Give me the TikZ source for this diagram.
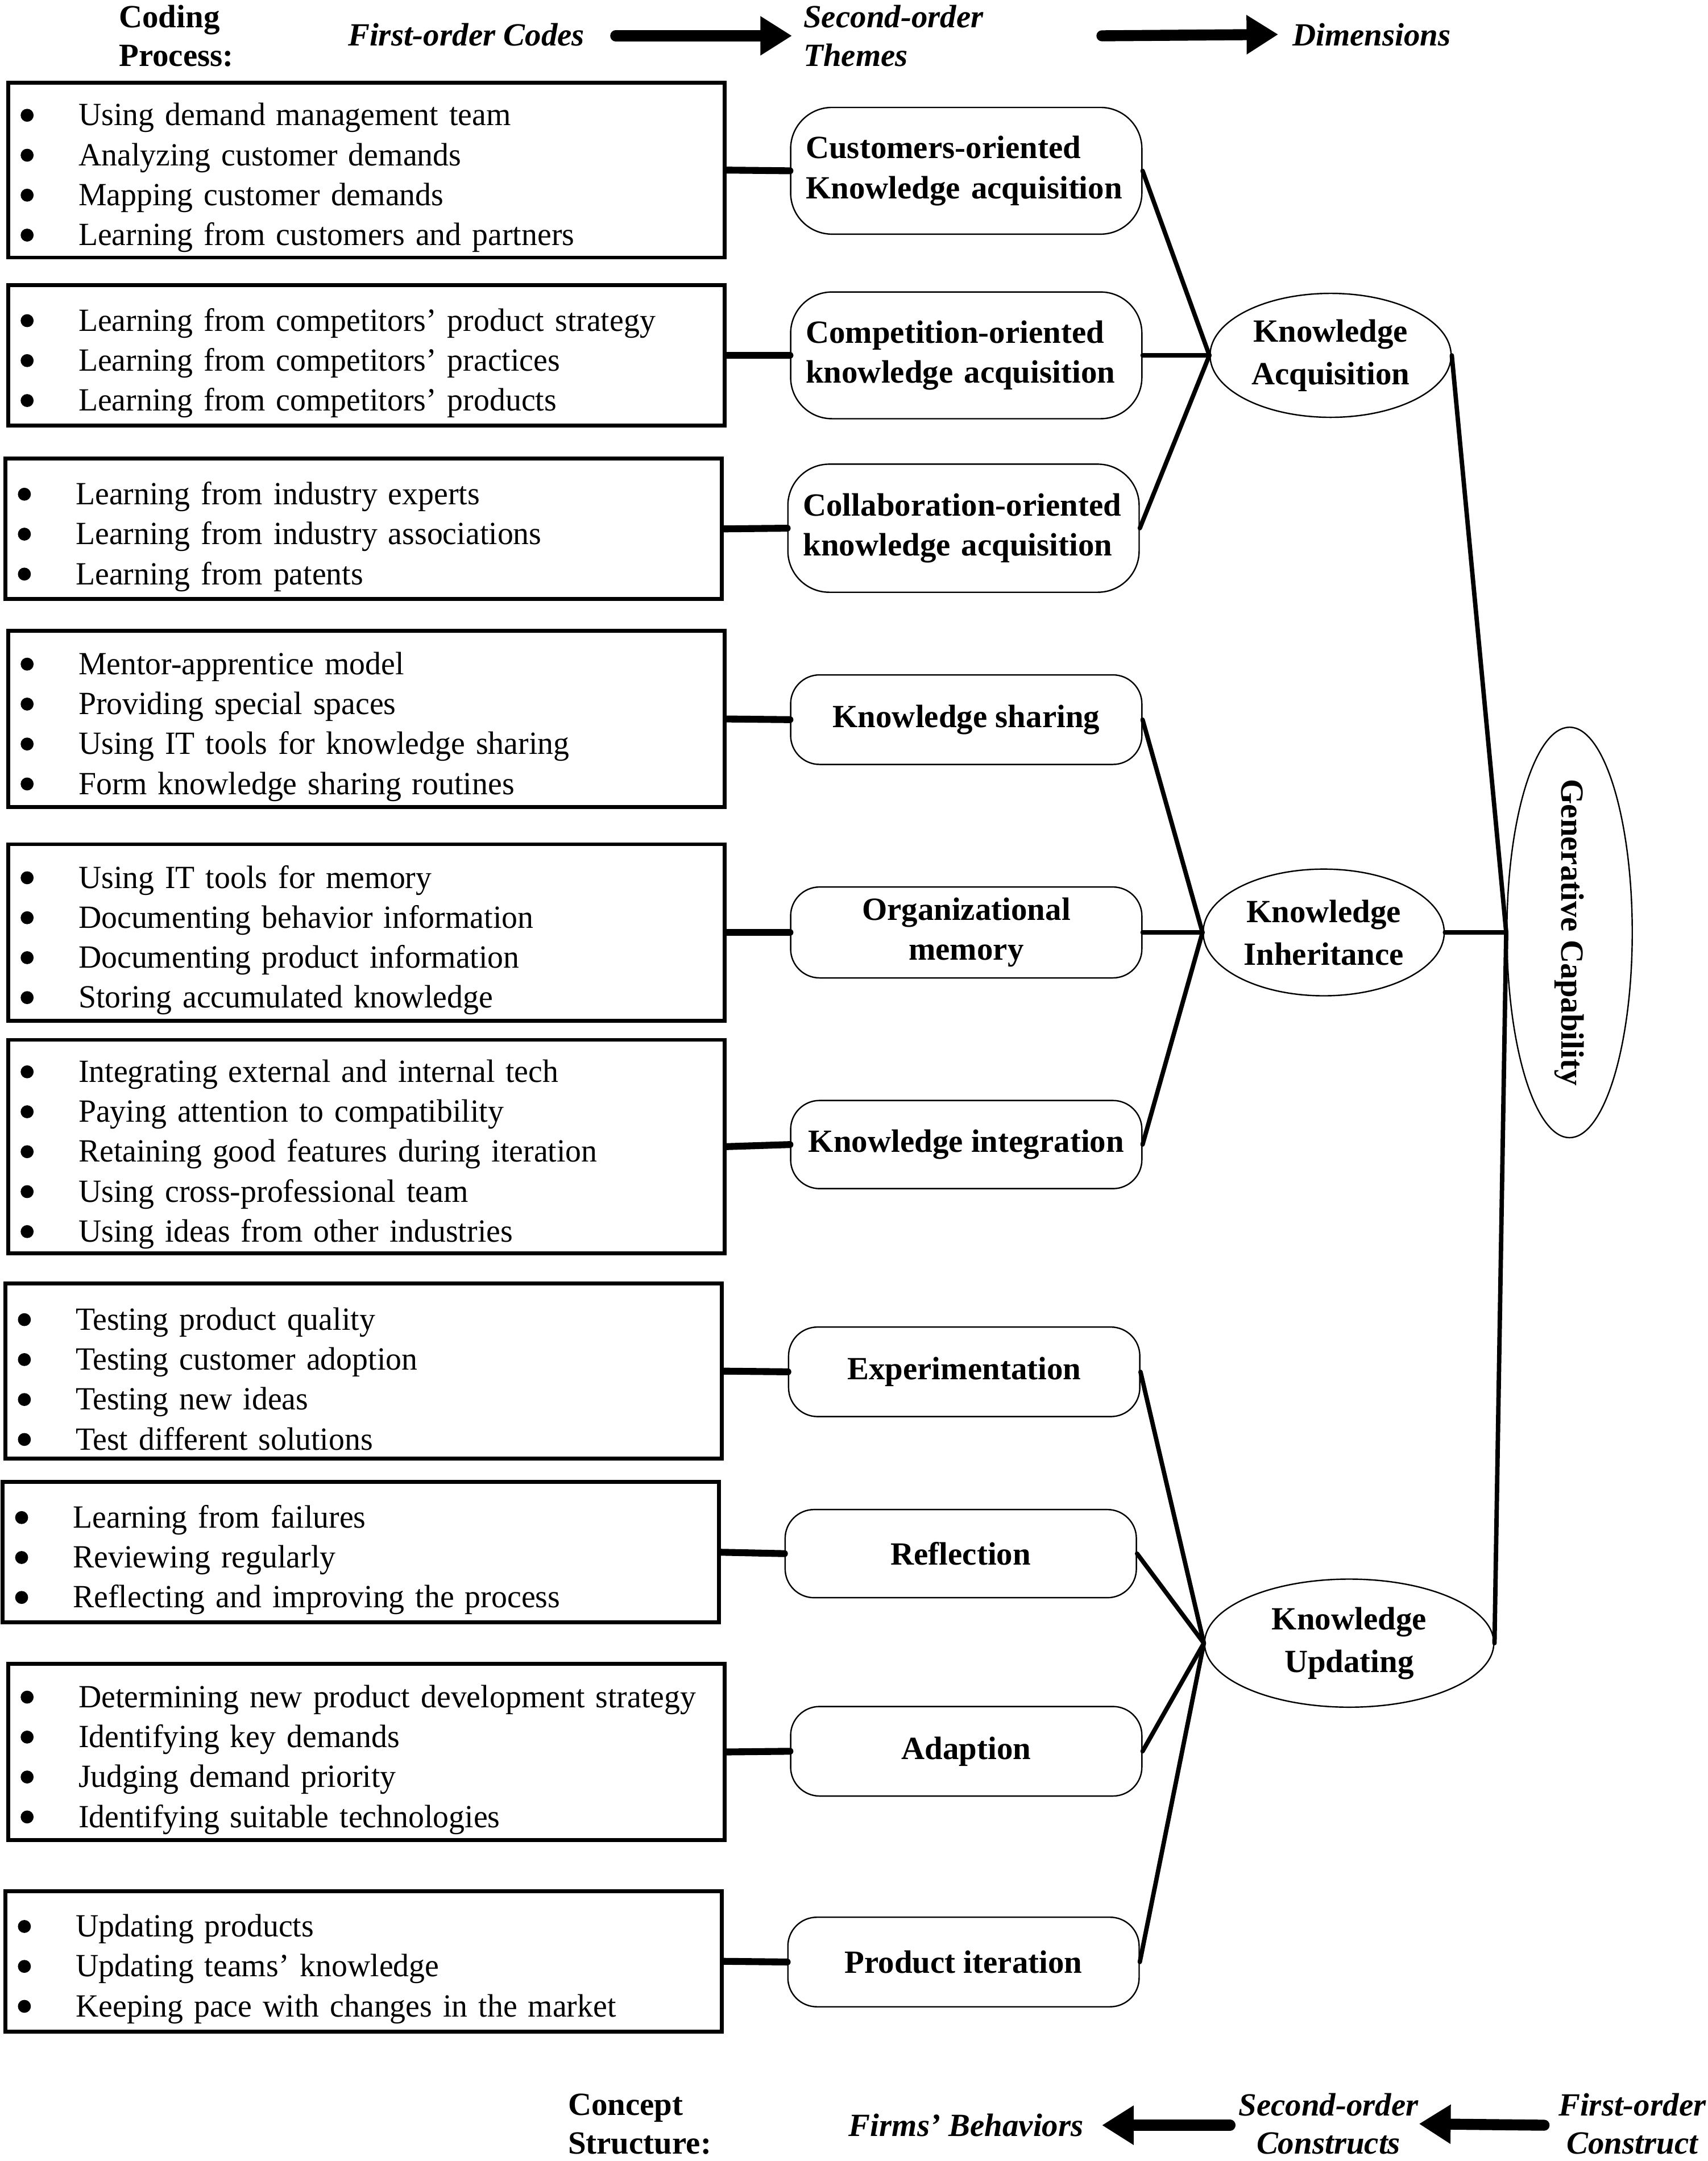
\documentclass[tikz,border=0pt]{standalone}
\usepackage{fontspec}
\setmainfont{Liberation Serif}
\newfontfamily\codefont{Liberation Serif}[FakeStretch=0.98]
\usetikzlibrary{shapes.geometric,arrows.meta}
\newcommand\bul{\tikz[baseline=0pt]\fill (0,0.32em) circle[radius=0.2em];}
\newcommand\itm[1]{\makebox[21pt][l]{\bul}#1}
\newcommand\fsz{\fontsize{11.75pt}{14.5pt}\selectfont}
\begin{document}
\begin{tikzpicture}[x=0.5pt,y=-0.5pt,
 codebox/.style={draw, line width=1.4pt, inner sep=0pt, minimum width=260pt},
 codetext/.style={anchor=west, inner xsep=5pt, inner ysep=0pt, text width=250pt, align=left, font=\codefont\fsz, yshift=-2.8pt},
 theme/.style={draw, line width=0.5pt, minimum width=127.5pt, font=\fsz\bfseries, align=center, inner sep=0pt},
 themeL/.style={theme, text width=116.5pt, align=left, inner xsep=5.5pt},
 dim/.style={ellipse, draw, line width=0.5pt, inner sep=0pt, font=\fontsize{11.75pt}{15.5pt}\selectfont\bfseries, align=center},
 link/.style={line width=2.5pt, line cap=round},
 branch/.style={line width=1.6pt, line cap=round},
 bigarrow/.style={line width=4pt, line cap=round, -{Triangle[length=11.5pt,width=13.5pt]}},
 hdr/.style={font=\fontsize{11.75pt}{14pt}\selectfont\bfseries, inner sep=0pt},
 hdri/.style={font=\fontsize{11.75pt}{14pt}\selectfont\bfseries\itshape, inner sep=0pt}
]
\useasboundingbox (0,0) rectangle (1240,1569);

% header
\node[hdr, anchor=west, align=left] (cp) at (86,26) {Coding\\Process:};
\node[hdri] (h1) at (338.5,25) {First-order Codes};
\node[hdri, anchor=west, align=left, inner xsep=4pt] (h2) at (575,26) {Second-order\\Themes};
\node[hdri, anchor=west, inner xsep=5pt] (h3) at (928,25) {Dimensions};
\coordinate (a1) at (447,26);
\coordinate (a2) at (800,26);
\draw[bigarrow] (a1) -- (h2.west);
\draw[bigarrow] (a2) -- (h3.west);

% first-order code boxes
\node[codebox, minimum height=63.5pt] (b1) at (266,123.5) {};
\node[codetext] (b1t) at (b1.west) {\itm{Using demand management team}\\\itm{Analyzing customer demands}\\\itm{Mapping customer demands}\\\itm{Learning from customers and partners}};
\node[codebox, minimum height=51pt] (b2) at (266,258) {};
\node[codetext] (b2t) at (b2.west) {\itm{Learning from competitors’ product strategy}\\\itm{Learning from competitors’ practices}\\\itm{Learning from competitors’ products}};
\node[codebox, minimum height=51pt] (b3) at (264,384) {};
\node[codetext] (b3t) at (b3.west) {\itm{Learning from industry experts}\\\itm{Learning from industry associations}\\\itm{Learning from patents}};
\node[codebox, minimum height=64pt] (b4) at (266,522) {};
\node[codetext] (b4t) at (b4.west) {\itm{Mentor-apprentice model}\\\itm{Providing special spaces}\\\itm{Using IT tools for knowledge sharing}\\\itm{Form knowledge sharing routines}};
\node[codebox, minimum height=64pt] (b5) at (266,677) {};
\node[codetext] (b5t) at (b5.west) {\itm{Using IT tools for memory}\\\itm{Documenting behavior information}\\\itm{Documenting product information}\\\itm{Storing accumulated knowledge}};
\node[codebox, minimum height=77.5pt] (b6) at (266,832.5) {};
\node[codetext] (b6t) at (b6.west) {\itm{Integrating external and internal tech}\\\itm{Paying attention to compatibility}\\\itm{Retaining good features during iteration}\\\itm{Using cross-professional team}\\\itm{Using ideas from other industries}};
\node[codebox, minimum height=63.5pt] (b7) at (264,995.5) {};
\node[codetext] (b7t) at (b7.west) {\itm{Testing product quality}\\\itm{Testing customer adoption}\\\itm{Testing new ideas}\\\itm{Test different solutions}};
\node[codebox, minimum height=51pt] (b8) at (262,1127) {};
\node[codetext] (b8t) at (b8.west) {\itm{Learning from failures}\\\itm{Reviewing regularly}\\\itm{Reflecting and improving the process}};
\node[codebox, minimum height=64pt] (b9) at (266,1272) {};
\node[codetext] (b9t) at (b9.west) {\itm{Determining new product development strategy}\\\itm{Identifying key demands}\\\itm{Judging demand priority}\\\itm{Identifying suitable technologies}};
\node[codebox, minimum height=51pt] (b10) at (264,1424) {};
\node[codetext] (b10t) at (b10.west) {\itm{Updating products}\\\itm{Updating teams’ knowledge}\\\itm{Keeping pace with changes in the market}};

% second-order themes
\node[themeL, minimum height=46pt, rounded corners=15pt] (t1) at (701.5,124) {\mbox{Customers-oriented}\\\mbox{Knowledge acquisition}};
\node[themeL, minimum height=46pt, rounded corners=15pt] (t2) at (701.5,258) {\mbox{Competition-oriented}\\\mbox{knowledge acquisition}};
\node[themeL, minimum height=46.5pt, rounded corners=15pt] (t3) at (699.5,383.5) {\mbox{Collaboration-oriented}\\\mbox{knowledge acquisition}};
\node[theme, minimum height=32.5pt, rounded corners=10.5pt] (t4) at (701.5,522.5) {Knowledge sharing};
\node[theme, minimum height=33pt, rounded corners=10.5pt] (t5) at (701.5,677) {Organizational\\memory};
\node[theme, minimum height=32pt, rounded corners=10.5pt] (t6) at (701.5,831) {Knowledge integration};
\node[theme, minimum height=32.5pt, rounded corners=10.5pt] (t7) at (700,996) {Experimentation};
\node[theme, minimum height=32pt, rounded corners=10.5pt] (t8) at (697.5,1128) {Reflection};
\node[theme, minimum height=32.5pt, rounded corners=10.5pt] (t9) at (701.5,1271.5) {Adaption};
\node[theme, minimum height=32.5pt, rounded corners=10.5pt] (t10) at (699.5,1424.5) {Product iteration};

% dimensions
\node[dim, minimum width=87.5pt, minimum height=45pt] (e1) at (966,258) {Knowledge\\Acquisition};
\node[dim, minimum width=87.5pt, minimum height=46pt] (e2) at (961,677) {Knowledge\\Inheritance};
\node[dim, minimum width=105pt, minimum height=46.5pt] (e3) at (979.5,1193) {Knowledge\\Updating};
\node[dim, minimum width=45.5pt, minimum height=149pt] (e4) at (1139.5,677) {};
\node[font=\fontsize{11.75pt}{14pt}\selectfont\bfseries, rotate=-90, inner sep=0pt] (e4t) at (e4.center) {Generative Capability};

% links boxes -> themes
\foreach \i in {1,...,10} {\draw[link] (b\i.east) -- (t\i.west);}

% themes -> dimensions
\foreach \i in {1,2,3} {\draw[branch] (t\i.east) -- (e1.west);}
\foreach \i in {4,5,6} {\draw[branch] (t\i.east) -- (e2.west);}
\foreach \i in {7,8,9,10} {\draw[branch] (t\i.east) -- (e3.west);}

% dimensions -> generative capability
\draw[branch] (e1.east) -- (e4.west);
\draw[branch] (e2.east) -- (e4.west);
\draw[branch] (e3.east) -- (e4.west);

% footer
\node[hdr, anchor=west, align=left] (cs) at (412,1542) {Concept\\Structure:};
\node[hdri, anchor=east, inner xsep=6.5pt] (fb) at (800,1543) {Firms’ Behaviors};
\node[hdri, align=center] (so) at (964.5,1542) {Second-order\\Constructs};
\node[hdri, align=center] (fo) at (1185,1542) {First-order\\Construct};
\coordinate (c1) at (893,1543);
\coordinate (c2) at (1121,1543);
\draw[bigarrow] (c1) -- (fb.east);
\draw[bigarrow] (c2) -- (so.east);
\end{tikzpicture}
\end{document}
